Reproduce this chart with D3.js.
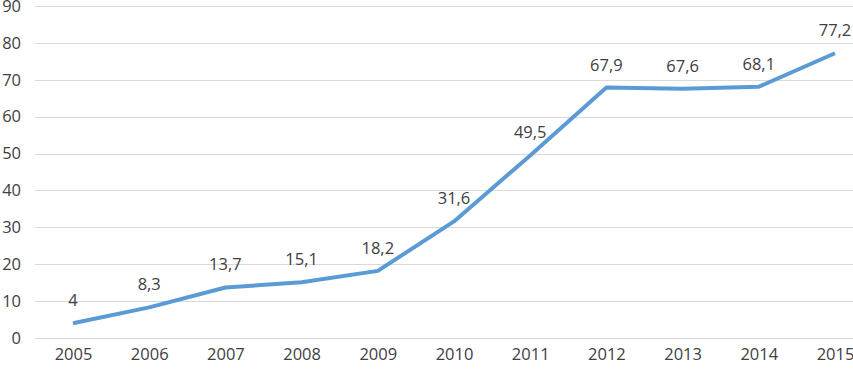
<!DOCTYPE html>
<html>
<head>
<meta charset="utf-8">
<script src="https://cdn.jsdelivr.net/npm/d3@7"></script>
<style>
  body { margin: 0; background: #fff; }
  text { font-family: "Open Sans", sans-serif; fill: #404040; }
</style>
</head>
<body>
<div id="chart"></div>
<script>
// data //
const years = ["2005", "2006", "2007", "2008", "2009", "2010", "2011", "2012", "2013", "2014", "2015"];
const values = [4, 8.3, 13.7, 15.1, 18.2, 31.6, 49.5, 67.9, 67.6, 68.1, 77.2];
const yTicks = [0, 10, 20, 30, 40, 50, 60, 70, 80, 90];

const W = 853, H = 369;
const svg = d3.select("#chart").append("svg")
  .attr("width", W).attr("height", H);

// x: category points, last band runs past the right edge (cropped)
const x = d3.scalePoint()
  .domain(years)
  .range([73, 835]);

const y = d3.scaleLinear()
  .domain([0, 90])
  .range([338, 6]);

// gridlines
svg.append("g")
  .selectAll("line")
  .data(yTicks)
  .join("line")
  .attr("x1", 35).attr("x2", W)
  .attr("y1", d => Math.round(y(d)) + 0.5)
  .attr("y2", d => Math.round(y(d)) + 0.5)
  .attr("stroke", "#d9d9d9")
  .attr("stroke-width", 1);

// y axis labels
const yAxis = svg.append("g")
  .attr("transform", "translate(21,0)")
  .call(d3.axisLeft(y).tickValues(yTicks).tickSize(0).tickPadding(0));
yAxis.select(".domain").remove();
yAxis.selectAll("text")
  .attr("font-family", "Open Sans, sans-serif")
  .attr("font-size", "16.5px")
  .attr("fill", "#404040");

// x axis labels
const xAxis = svg.append("g")
  .attr("transform", "translate(0,348)")
  .call(d3.axisBottom(x).tickSize(0).tickPadding(0));
xAxis.select(".domain").remove();
xAxis.selectAll("text")
  .attr("font-family", "Open Sans, sans-serif")
  .attr("font-size", "16.5px")
  .attr("fill", "#404040");

// line
const line = d3.line()
  .x((d, i) => x(years[i]))
  .y(d => y(d));

svg.append("path")
  .datum(values)
  .attr("fill", "none")
  .attr("stroke", "#5b9bd5")
  .attr("stroke-width", 4)
  .attr("stroke-linejoin", "round")
  .attr("d", line);

// value labels
svg.append("g")
  .selectAll("text")
  .data(values)
  .join("text")
  .attr("x", (d, i) => x(years[i]))
  .attr("y", d => y(d) - 17)
  .attr("text-anchor", "middle")
  .attr("font-size", "16.5px")
  .text(d => String(d).replace(".", ","));
</script>
</body>
</html>
